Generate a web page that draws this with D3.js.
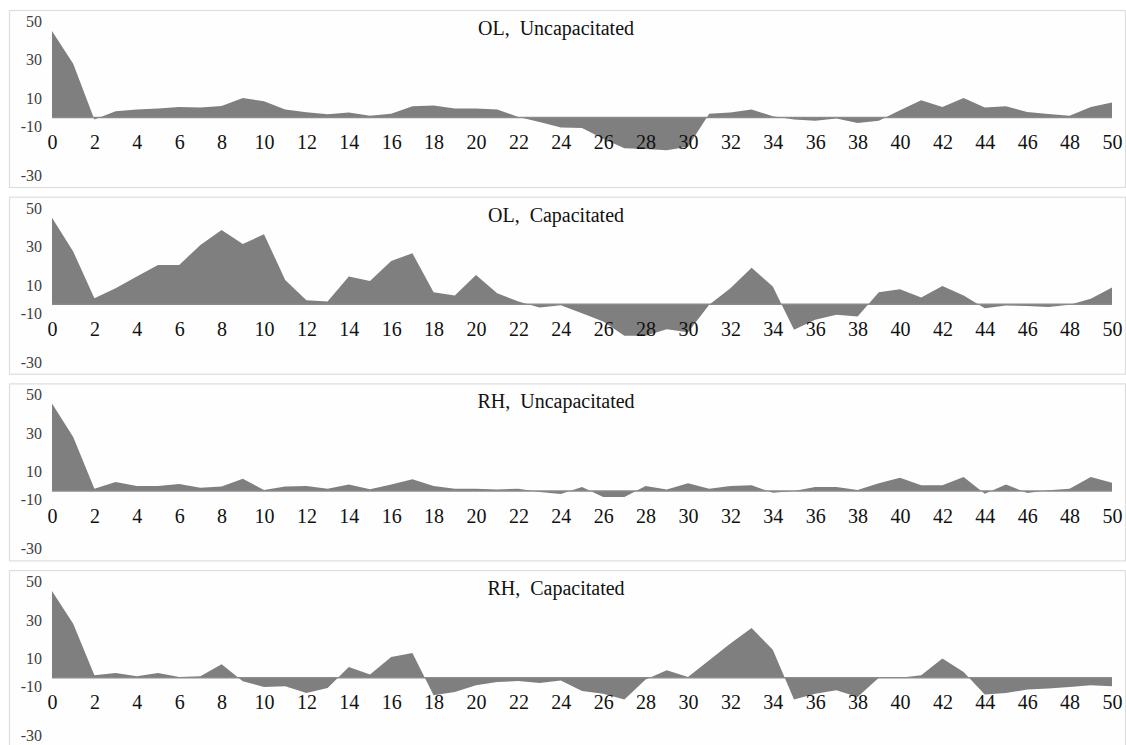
<!DOCTYPE html>
<html>
<head>
<meta charset="utf-8">
<script src="https://cdn.jsdelivr.net/npm/d3@7"></script>
<style>
  html, body { margin: 0; padding: 0; background: #ffffff; }
  svg { display: block; }
  text { font-family: "Liberation Serif", "Times New Roman", serif; }
</style>
</head>
<body>
<svg id="chart" width="1126" height="745"></svg>
<script>
// ---- data ----
const xValues = d3.range(0, 51);
const xTickValues = d3.range(0, 51, 2);
const yTickValues = [50, 30, 10, -10, -30];
const panelTitles = ["OL,  Uncapacitated", "OL,  Capacitated", "RH,  Uncapacitated", "RH,  Capacitated"];

const olUncapacitated = [45, 28, -1, 3.3, 4.2, 4.7, 5.5, 5.2, 6, 10.2, 8.5, 4.2, 2.8, 1.7, 2.6, 0.9, 2, 5.9, 6.2, 4.7,
  4.7, 4.2, 0.3, -2.3, -5.2, -5.4, -11, -16, -16.3, -17, -15.2, 2, 2.6, 4.2, 0.7, -1, -1.7, -0.5, -2.8, -1.7,
  3.8, 9, 5.5, 10.2, 5.2, 5.9, 2.9, 1.9, 0.9, 5.5, 7.8];

const olCapacitated = [45, 27.4, 3.1, 8.3, 14.4, 20.4, 20.4, 30.8, 38.6, 31.3, 36.4, 12.6, 2.1, 1.4, 14.4, 12.1, 22.5, 26.5, 6.2, 4.5,
  15.2, 5.7, 1.4, -1.7, -0.5, -4.7, -9, -16.3, -16.3, -13, -14.5, -0.3, 8.3, 19, 9.2, -13.3, -8.1, -5.5, -6.4, 6.2,
  7.8, 3.5, 9.5, 4.5, -2.1, -0.7, -0.9, -1.4, -0.3, 2.8, 8.7];

const rhUncapacitated = [45.4, 28, 1.2, 4.7, 2.6, 2.6, 3.6, 1.7, 2.3, 6.4, 0.5, 2.3, 2.6, 1.2, 3.3, 0.9, 3.3, 6.1, 2.6, 1.2,
  1.2, 0.7, 1.2, -0.5, -1.6, 2.1, -3.1, -3.1, 2.6, 0.7, 4, 1.2, 2.6, 2.9, -0.9, 0, 2.1, 2.1, 0.5, 4,
  6.8, 2.9, 2.9, 7.3, -1.4, 3.3, -1, 0.3, 1.2, 7.3, 4.3];

const rhCapacitated = [45, 28, 1.2, 2.4, 0.7, 2.4, 0.3, 0.7, 6.9, -1.9, -4.8, -4.5, -8, -5.4, 5.5, 1.7, 10.7, 12.8, -9.2, -7.4,
  -4, -2.3, -1.7, -2.8, -1.5, -6.9, -8.3, -11.4, -1, 3.8, 0.3, 9, 17.7, 25.8, 14.5, -11.4, -8.3, -6.6, -10, 0,
  0, 1.2, 9.9, 2.9, -8.8, -8, -6.2, -5.7, -4.8, -4, -4.5];

const panelSeries = [olUncapacitated, olCapacitated, rhUncapacitated, rhCapacitated];

// ---- layout ----
const svg = d3.select("#chart");
const panelTop0 = 10, panelStep = 186.7, panelH = 177;
const x = d3.scaleLinear().domain([0, 50]).range([52, 1112]);
const fmt = d => String(d);

panelSeries.forEach((series, i) => {
  const top = panelTop0 + i * panelStep;
  const g = svg.append("g");

  g.append("rect")
    .attr("x", 9.5).attr("y", top + 0.5)
    .attr("width", 1116).attr("height", panelH)
    .attr("fill", "#fefefe")
    .attr("stroke", "#dedede").attr("stroke-width", 1.2);

  const y = d3.scaleLinear().domain([-30, 50]).range([top + 165.3, top + 11.3]);

  const area = d3.area()
    .x((d, j) => x(xValues[j]))
    .y0(y(0))
    .y1(d => y(d));

  g.append("path")
    .datum(series)
    .attr("d", area)
    .attr("fill", "#7f7f7f");

  g.append("line")
    .attr("x1", x(0)).attr("x2", x(50))
    .attr("y1", y(0)).attr("y2", y(0))
    .attr("stroke", "#8a8a8a").attr("stroke-width", 1.5);

  // y axis
  const yAxis = g.append("g")
    .attr("transform", "translate(44,0)")
    .call(d3.axisLeft(y).tickValues(yTickValues).tickSize(0).tickPadding(2).tickFormat(fmt));
  yAxis.select(".domain").remove();
  yAxis.selectAll("text")
    .attr("font-size", 16)
    .attr("fill", "#404040")
    .style("font-family", "'Liberation Serif', 'Times New Roman', serif")
    .attr("transform", d => d === -10 ? "translate(0,-10.5)" : null);

  // x axis
  const xAxis = g.append("g")
    .attr("transform", `translate(0,${top + 119})`)
    .call(d3.axisBottom(x).tickValues(xTickValues).tickSize(0).tickPadding(6).tickFormat(fmt));
  xAxis.select(".domain").remove();
  xAxis.selectAll("text")
    .attr("font-size", 20)
    .attr("fill", "#111")
    .style("font-family", "'Liberation Serif', 'Times New Roman', serif");

  // title
  g.append("text")
    .attr("x", 556).attr("y", top + 25)
    .attr("text-anchor", "middle")
    .attr("font-size", 20)
    .attr("fill", "#111")
    .style("white-space", "pre")
    .text(panelTitles[i]);
});
</script>
</body>
</html>
